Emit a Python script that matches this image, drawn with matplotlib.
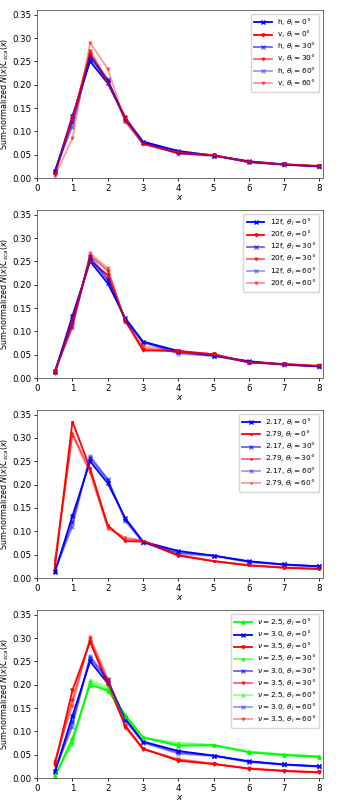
import matplotlib
matplotlib.use("Agg")
import matplotlib.pyplot as plt

x = [0.5, 1, 1.5, 2, 2.5, 3, 4, 5, 6, 7, 8]
thetas = [0, 30, 60]

# baseline blue series (h / 12f / 2.17 / nu=3.0)
blue_0 = [0.012, 0.133, 0.250, 0.203, 0.128, 0.078, 0.058, 0.048, 0.036, 0.029, 0.025]
blue_30 = [0.014, 0.120, 0.257, 0.210, 0.125, 0.077, 0.055, 0.048, 0.035, 0.029, 0.025]
blue_60 = [0.016, 0.110, 0.262, 0.212, 0.122, 0.076, 0.052, 0.047, 0.034, 0.028, 0.024]

# panel 1: v
v_0 = [0.010, 0.128, 0.265, 0.205, 0.130, 0.074, 0.053, 0.049, 0.034, 0.029, 0.025]
v_30 = [0.008, 0.125, 0.272, 0.208, 0.125, 0.073, 0.054, 0.049, 0.034, 0.029, 0.026]
v_60 = [0.004, 0.085, 0.290, 0.234, 0.120, 0.072, 0.055, 0.049, 0.035, 0.030, 0.026]

# panel 2: 20f
f20_0 = [0.010, 0.125, 0.252, 0.220, 0.123, 0.059, 0.058, 0.051, 0.033, 0.030, 0.025]
f20_30 = [0.012, 0.115, 0.262, 0.230, 0.122, 0.063, 0.056, 0.051, 0.033, 0.030, 0.026]
f20_60 = [0.016, 0.108, 0.267, 0.235, 0.120, 0.068, 0.055, 0.051, 0.034, 0.030, 0.027]

# panel 3: 2.79
r279_0 = [0.022, 0.335, 0.235, 0.113, 0.079, 0.078, 0.048, 0.036, 0.027, 0.022, 0.019]
r279_30 = [0.030, 0.310, 0.230, 0.110, 0.083, 0.080, 0.049, 0.036, 0.027, 0.022, 0.020]
r279_60 = [0.038, 0.305, 0.225, 0.106, 0.087, 0.080, 0.050, 0.037, 0.028, 0.023, 0.020]

# panel 4: nu
nu25_0 = [0.003, 0.085, 0.200, 0.187, 0.135, 0.087, 0.069, 0.070, 0.055, 0.049, 0.045]
nu25_30 = [0.004, 0.078, 0.205, 0.190, 0.133, 0.087, 0.072, 0.071, 0.056, 0.050, 0.046]
nu25_60 = [0.005, 0.072, 0.210, 0.195, 0.130, 0.086, 0.076, 0.071, 0.057, 0.051, 0.047]
nu35_0 = [0.028, 0.188, 0.292, 0.200, 0.112, 0.063, 0.037, 0.030, 0.020, 0.015, 0.012]
nu35_30 = [0.032, 0.168, 0.297, 0.208, 0.110, 0.062, 0.039, 0.030, 0.020, 0.015, 0.012]
nu35_60 = [0.037, 0.155, 0.302, 0.213, 0.108, 0.062, 0.041, 0.031, 0.021, 0.016, 0.013]

alphas = [1.0, 0.6, 0.4]

fig = plt.figure(figsize=(3.41, 8.0), dpi=100)
left, width = 0.109, 0.838
height = 0.21
bottoms = [0.7775, 0.5275, 0.2775, 0.0275]

def th(t):
    return r"$\theta_i = %d°$" % t

panels = [
    [("h", "b", "x", [blue_0, blue_30, blue_60]),
     ("v", "r", "v", [v_0, v_30, v_60])],
    [("12f", "b", "x", [blue_0, blue_30, blue_60]),
     ("20f", "r", "v", [f20_0, f20_30, f20_60])],
    [("2.17", "b", "x", [blue_0, blue_30, blue_60]),
     ("2.79", "r", ".", [r279_0, r279_30, r279_60])],
    [(r"$\nu = 2.5$", "lime", "^", [nu25_0, nu25_30, nu25_60]),
     (r"$\nu = 3.0$", "b", "x", [blue_0, blue_30, blue_60]),
     (r"$\nu = 3.5$", "r", "v", [nu35_0, nu35_30, nu35_60])],
]

for b, series in zip(bottoms, panels):
    ax = fig.add_axes([left, b, width, height])
    for k, t in enumerate(thetas):
        for name, col, mk, data in series:
            ax.plot(x, data[k], color=col, marker=mk, markersize=2.2,
                    linewidth=1.3, alpha=alphas[k],
                    label=name + ", " + th(t))
    ax.set_xlim(0, 8.1)
    ax.set_ylim(0, 0.36)
    ax.set_xticks(range(0, 9))
    ax.set_yticks([0, 0.05, 0.10, 0.15, 0.20, 0.25, 0.30, 0.35])
    ax.set_yticklabels(["0.00", "0.05", "0.10", "0.15", "0.20", "0.25", "0.30", "0.35"])
    ax.tick_params(labelsize=6.2, length=2.5, width=0.6, pad=1.5)
    for s in ax.spines.values():
        s.set_linewidth(0.6)
        s.set_color("#555555")
    ax.set_xlabel(r"$x$", fontsize=6.5, labelpad=0)
    ax.set_ylabel(r"Sum-normalized $N(x)C_{sca}(x)$", fontsize=5.8, labelpad=1)
    ax.legend(loc="upper right", fontsize=5.3, handlelength=2.4,
              borderpad=0.45, labelspacing=0.12, handletextpad=0.7,
              borderaxespad=0.5)

fig.savefig("out.png", dpi=100)
